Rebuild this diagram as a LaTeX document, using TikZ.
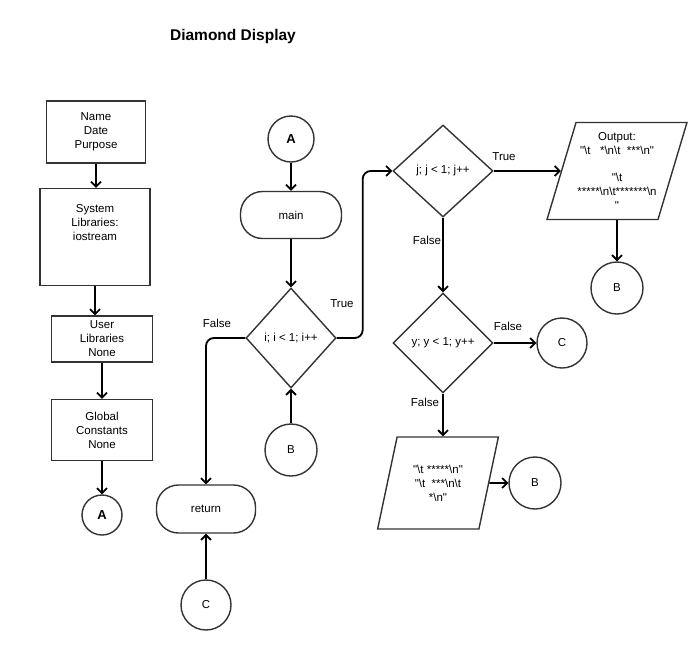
\documentclass[tikz,border=0pt]{standalone}
\usepackage{fontspec}
\newfontfamily\flowfont{Liberation Sans}
\usetikzlibrary{shapes.geometric,arrows.meta}
\newcommand{\bsl}{\textbackslash}

\begin{document}
\begin{tikzpicture}[x=1pt,y=-1pt,
    every node/.style={font=\flowfont\fontsize{11.5}{14}\selectfont, align=center, inner sep=0pt},
    procbox/.style={draw=black!80, line width=1.4pt},
    termbox/.style={draw=black!80, line width=1.4pt, rounded corners=22pt, minimum width=101pt, minimum height=47pt},
    decision/.style={draw=black!80, diamond, line width=1.4pt},
    iobox/.style={draw=black!80, trapezium, trapezium stretches=true, line width=1.4pt},
    connector/.style={draw=black!80, circle, line width=1.4pt, minimum size=50pt},
    flow/.style={line width=1.8pt, -{Straight Barb[length=5pt,width=10pt]}}]
  \useasboundingbox (0,0) rectangle (695,651);

  \node[font=\flowfont\fontsize{15.5}{18}\selectfont\bfseries] (title) at (233,36) {Diamond Display};

  % left column
  \node[procbox, minimum width=99pt, minimum height=62pt] (nm) at (96,132) {Name\\Date\\Purpose};
  \node[procbox, minimum width=110pt, minimum height=97pt,
    label={[name=systxt, align=center, anchor=north, yshift=-16pt]north:{System\\Libraries:\\iostream}}] (sys) at (95,237) {};
  \node[procbox, minimum width=101pt, minimum height=46pt] (usr) at (102,339) {User\\Libraries\\None};
  \node[procbox, minimum width=101pt, minimum height=61pt] (glb) at (102,430) {Global\\Constants\\None};
  \node[connector, minimum size=40pt, font=\flowfont\fontsize{13}{15}\selectfont\bfseries] (ca) at (102,515) {A};

  % main loop
  \node[connector, minimum size=46pt, font=\flowfont\fontsize{13}{15}\selectfont\bfseries] (a2) at (291,139) {A};
  \node[termbox] (main) at (291,215) {main};
  \node[decision, minimum width=90pt, minimum height=100pt] (di) at (291,338) {i; i < 1; i++};
  \node[connector, minimum size=52pt] (cb1) at (291,450) {B};
  \node[termbox, minimum width=99pt, minimum height=48pt] (ret) at (206,509) {return};
  \node[connector] (cc1) at (206,605) {C};

  % inner loops
  \node[decision, minimum width=100pt, minimum height=92pt] (dj) at (443,171) {j; j < 1; j++};
  \node[iobox, minimum width=140pt, minimum height=97pt, trapezium left angle=70, trapezium right angle=110] (out) at (617,171)
    {Output:\\"\bsl t\ \ \ *\bsl n\bsl t\ \ ***\bsl n"\\[13pt]"\bsl t\\*****\bsl n\bsl t*******\bsl n\\"};
  \node[connector, minimum size=52pt] (b2) at (617,288) {B};
  \node[decision, minimum width=100pt, minimum height=100pt] (dy) at (443,343) {y; y < 1; y++};
  \node[connector] (cc2) at (562,343) {C};
  \node[iobox, minimum width=121pt, minimum height=92pt, trapezium left angle=72, trapezium right angle=108] (low) at (438,483)
    {"\bsl t *****\bsl n"\\"\bsl t\ \ ***\bsl n\bsl t\\*\bsl n"};
  \node[connector, minimum size=52pt] (b3) at (535,483) {B};

  % labels
  \node (t1) at (342,304) {True};
  \node (f1) at (217,323) {False};
  \node (t2) at (504,157) {True};
  \node (f2) at (427,240) {False};
  \node (f3) at (508,326) {False};
  \node (f4) at (425,402) {False};

  % arrows
  \foreach \a/\b in {nm/sys, sys/usr, usr/glb, glb/ca} {
    \draw[flow] (\a.south) -- (\a.south |- \b.north);
  }
  \foreach \a/\b in {a2/main, main/di, cb1/di, cc1/ret, dj/out, out/b2, dj/dy, dy/cc2, low/b3} {
    \draw[flow] (\a) -- (\b);
  }
  \draw[flow] (dy.south) -- (dy.south |- low.north);
  \draw[flow, rounded corners=8pt] (di.east) -- ++(26,0) |- (dj.west);
  \draw[flow, rounded corners=8pt] (di.west) -| (ret.north);
\end{tikzpicture}
\end{document}
